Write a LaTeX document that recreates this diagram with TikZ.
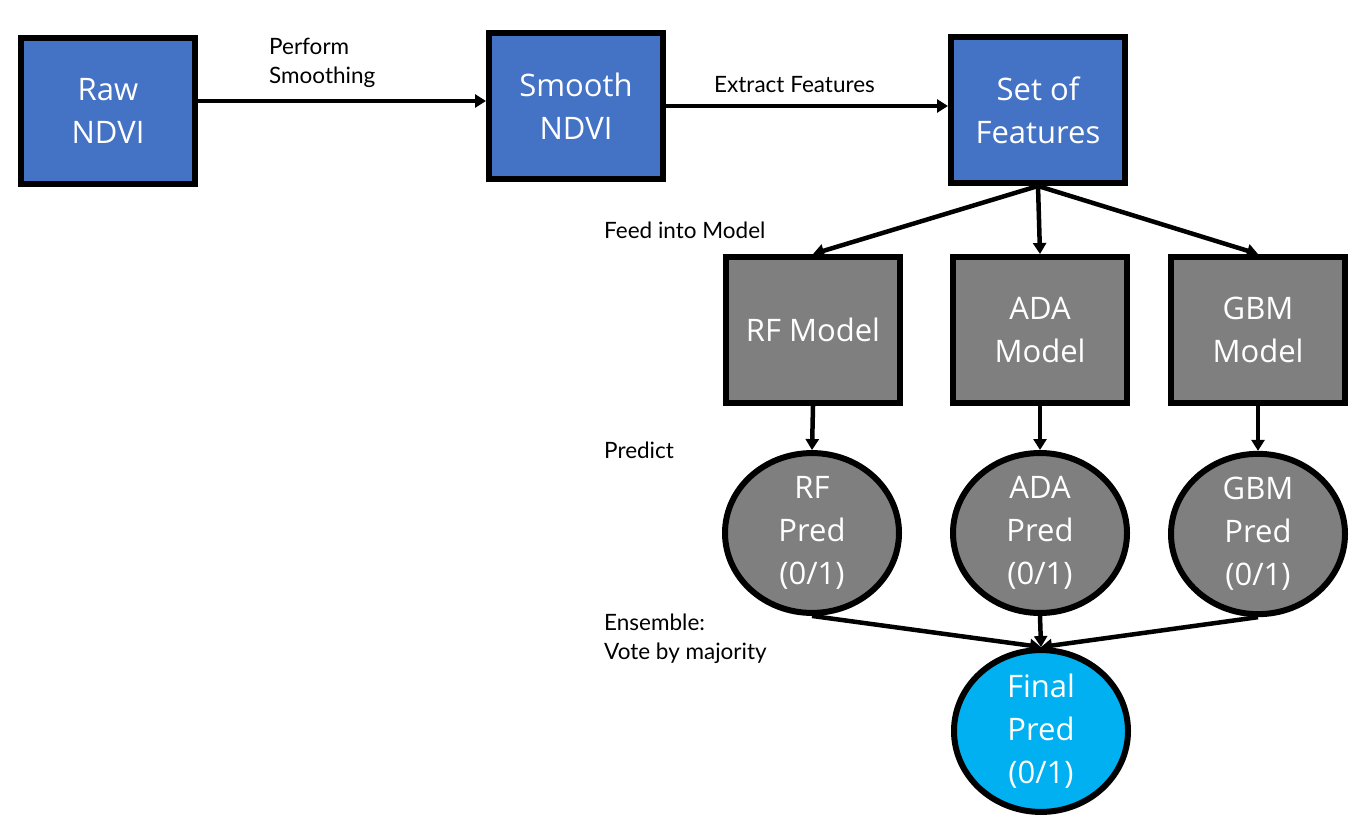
\documentclass[tikz,border=0pt]{standalone}
\usepackage{fontspec}
\setmainfont{Open Sans}
\newfontfamily\labelfont{Lato}
\usetikzlibrary{arrows.meta,shapes.geometric}
\definecolor{boxblue}{HTML}{4472C4}
\definecolor{boxgray}{HTML}{7F7F7F}
\definecolor{predcyan}{HTML}{00B0F0}
\tikzset{
  box/.style={draw=black, line width=6pt, minimum width=174pt, minimum height=146pt,
    text=white, align=center, inner sep=0pt, font=\fontsize{31}{43}\selectfont},
  bluebox/.style={box, fill=boxblue},
  graybox/.style={box, fill=boxgray},
  pred/.style={ellipse, draw=black, line width=6pt, minimum width=174pt, minimum height=144pt,
    text=white, align=center, inner sep=0pt, fill=boxgray, font=\fontsize{31}{43}\selectfont},
  finalpred/.style={pred, fill=predcyan},
  conn/.style={line width=4.5pt, -{Triangle[length=11pt,width=13pt]}},
  lbl/.style={anchor=west, align=left, inner sep=0pt, font=\labelfont\fontsize{22.5}{28.5}\selectfont}
}
\begin{document}
\begin{tikzpicture}[x=1pt,y=-1pt]
\useasboundingbox (0,0) rectangle (1370,826);
\node[bluebox] (raw) at (108,111) {Raw\\NDVI};
\node[bluebox] (smooth) at (576,106) {Smooth\\NDVI};
\node[bluebox] (feat) at (1038,110) {Set of\\Features};
\node[graybox] (rf) at (813,330) {RF Model};
\node[graybox] (ada) at (1040,330) {ADA\\Model};
\node[graybox] (gbm) at (1258,330) {GBM\\Model};
\node[pred] (rfp) at (812,533) {RF\\Pred\\(0/1)};
\node[pred] (adap) at (1040,533) {ADA\\Pred\\(0/1)};
\node[pred] (gbmp) at (1258,534) {GBM\\Pred\\(0/1)};
\node[finalpred] (final) at (1041,731) {Final\\Pred\\(0/1)};

\node[lbl] (l1) at (269,63) {Perform\\Smoothing};
\node[lbl] (l2) at (714,85) {Extract Features};
\node[lbl] (l3) at (604,230) {Feed into Model};
\node[lbl] (l4) at (604,450) {Predict};
\node[lbl] (l5) at (604,639) {Ensemble:\\Vote by majority};

\draw[conn] (raw.east |- 0,101) -- (smooth.west |- 0,101);
\draw[conn] (smooth.east |- 0,106) -- (feat.west |- 0,106);
\draw[conn] (feat.south) -- (rf.north);
\draw[conn] (feat.south) -- (ada.north);
\draw[conn] (feat.south) -- (gbm.north);
\draw[conn] (rf.south) -- (rfp.north);
\draw[conn] (ada.south) -- (adap.north);
\draw[conn] (gbm.south) -- (gbmp.north);
\draw[conn] (rfp.south) -- (final.north);
\draw[conn] (adap.south) -- (final.north);
\draw[conn] (gbmp.south) -- (final.north);
\end{tikzpicture}
\end{document}
